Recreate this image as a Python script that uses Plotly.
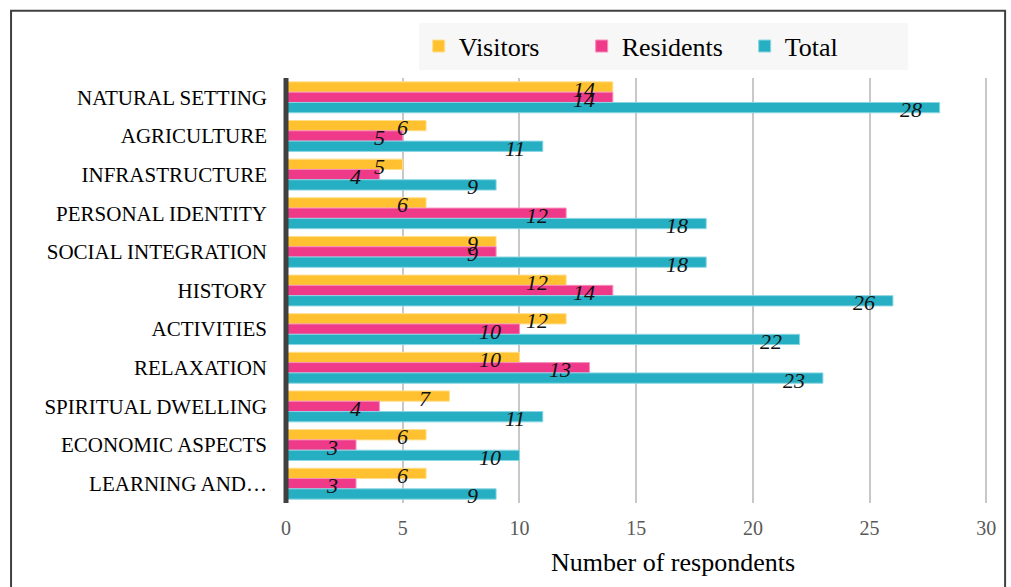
import plotly.graph_objects as go

categories = ["NATURAL SETTING", "AGRICULTURE", "INFRASTRUCTURE", "PERSONAL IDENTITY",
              "SOCIAL INTEGRATION", "HISTORY", "ACTIVITIES", "RELAXATION",
              "SPIRITUAL DWELLING", "ECONOMIC ASPECTS", "LEARNING AND…"]
visitors = [14, 6, 5, 6, 9, 12, 12, 10, 7, 6, 6]
residents = [14, 5, 4, 12, 9, 14, 10, 13, 4, 3, 3]
total = [28, 11, 9, 18, 18, 26, 22, 23, 11, 10, 9]
x_ticks = [0, 5, 10, 15, 20, 25, 30]

series = [
    ("Visitors", visitors, "#FFC12F", "#FFDF8C"),
    ("Residents", residents, "#EF3A8A", "#F78DBA"),
    ("Total", total, "#26AEC3", "#8AD6E3"),
]

pos = list(range(len(categories)))
bargap = 0.2
w = (1 - bargap) / len(series)

fig = go.Figure()
annotations = []
for k, (name, vals, color, edge) in enumerate(series):
    fig.add_trace(go.Bar(
        name=name, y=pos, x=vals, orientation="h",
        marker=dict(color=color, line=dict(color=edge, width=1)),
    ))
    off = (k - (len(series) - 1) / 2) * w
    for i, v in enumerate(vals):
        annotations.append(dict(
            x=v, y=i + off, xref="x", yref="y", text=str(v), showarrow=False,
            xanchor="right", yanchor="middle", xshift=-16, yshift=-2,
            font=dict(family="Liberation Serif", size=22, color="#111111", style="italic"),
        ))

serif = "Liberation Serif"
annotations.append(dict(
    text="Number of respondents", xref="paper", yref="paper", x=0.549, y=-0.139,
    xanchor="center", yanchor="middle", showarrow=False,
    font=dict(family=serif, size=26, color="black"),
))

fig.update_layout(
    width=1011, height=587,
    margin=dict(l=286, r=20, t=78, b=84),
    paper_bgcolor="white", plot_bgcolor="white",
    barmode="group", bargap=bargap, bargroupgap=0,
    font=dict(family=serif, color="black"),
    legend=dict(
        orientation="h", x=0.535, xanchor="center", y=1.075, yanchor="middle",
        bgcolor="#F7F7F7", font=dict(family=serif, size=26, color="black"),
        entrywidth=118, itemwidth=30, traceorder="normal",
    ),
    annotations=annotations,
    shapes=[
        dict(type="rect", xref="paper", yref="paper",
             x0=-0.39, x1=1.02, y0=-0.25, y1=1.158,
             line=dict(color="#404040", width=2), fillcolor="rgba(0,0,0,0)", layer="below"),
        dict(type="line", xref="paper", yref="paper", x0=0, x1=0, y0=0, y1=1,
             line=dict(color="#404040", width=5)),
    ],
)
fig.update_xaxes(
    range=[0, 30.2], tickvals=x_ticks, showgrid=True, gridcolor="#C8C8C8", gridwidth=1.5,
    zeroline=False, showline=False,
    tickfont=dict(family=serif, size=20, color="#595959"), ticklabelstandoff=11,
)
fig.update_yaxes(
    range=[10.5, -0.5], tickvals=pos, ticktext=categories, showgrid=False, zeroline=False,
    showline=False, ticks="", ticklabelstandoff=18,
    tickfont=dict(family=serif, size=21, color="black"),
)
fig.write_html("out.html")
